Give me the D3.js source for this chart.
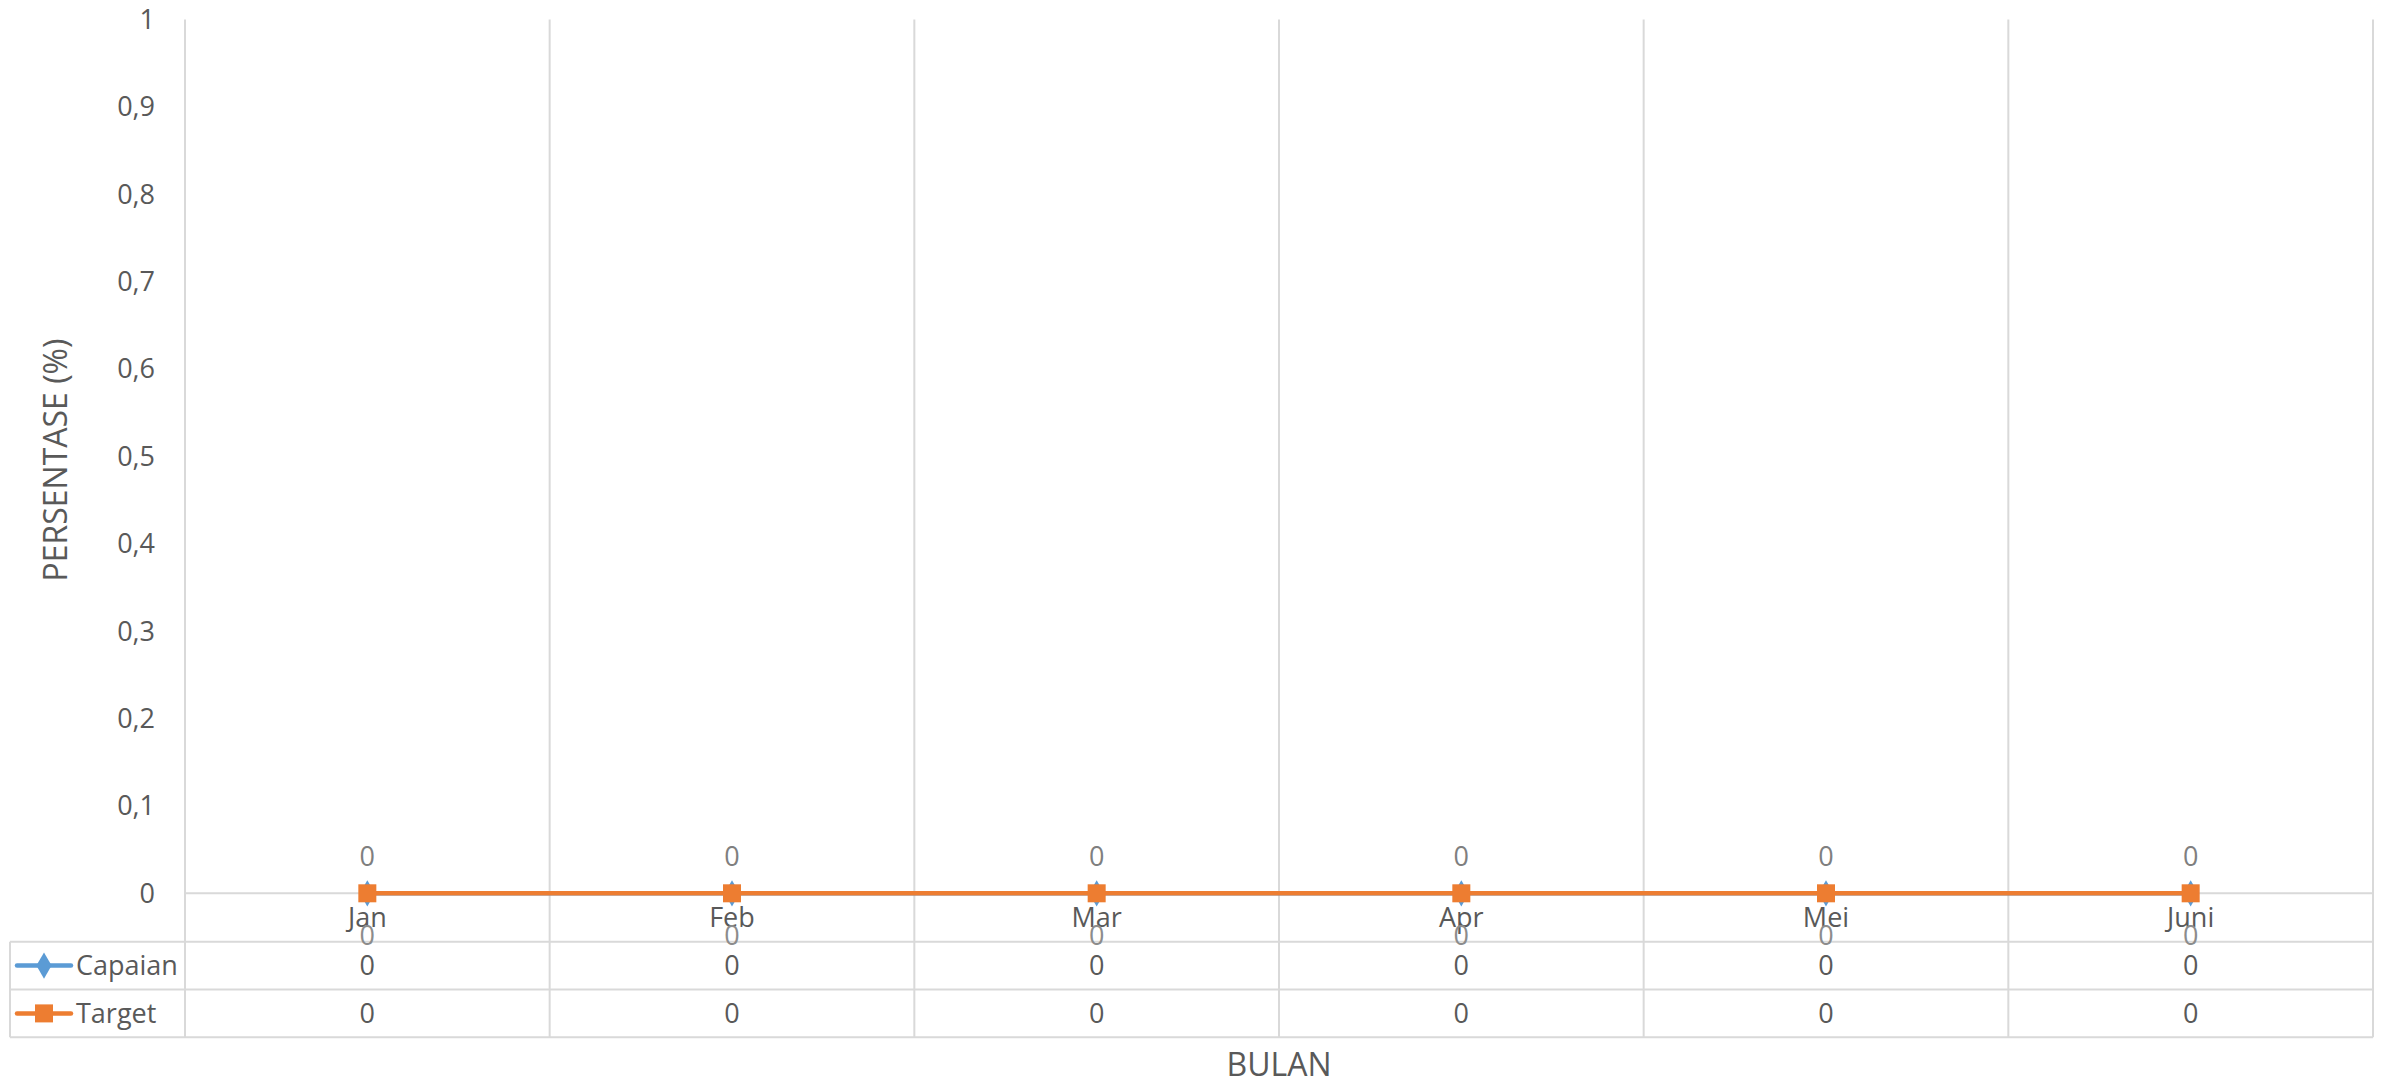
<!DOCTYPE html>
<html>
<head>
<meta charset="utf-8">
<script src="https://cdn.jsdelivr.net/npm/d3@7"></script>
<style>
  html, body { margin: 0; padding: 0; background: #fff; }
  svg { display: block; font-family: "Open Sans", "Noto Sans", sans-serif; }
</style>
</head>
<body>
<svg id="chart" width="2384" height="1082"></svg>
<script>
const categories = ["Jan", "Feb", "Mar", "Apr", "Mei", "Juni"];
const capaian = [0, 0, 0, 0, 0, 0];
const target = [0, 0, 0, 0, 0, 0];
const yTicks = [0, 0.1, 0.2, 0.3, 0.4, 0.5, 0.6, 0.7, 0.8, 0.9, 1];
const seriesNames = ["Capaian", "Target"];
const seriesColors = ["#5B9BD5", "#ED7D31"];
const yTitle = "PERSENTASE (%)";
const xTitle = "BULAN";

const svg = d3.select("#chart");
const plotLeft = 185, plotRight = 2373, plotTop = 19.5, zeroY = 893.3;
const tableTop = 941.7, rowH = 47.8, tableLeft = 10;
const tableBottom = tableTop + 2 * rowH;
const gridColor = "#d9d9d9";

const x = d3.scaleBand().domain(categories).range([plotLeft, plotRight]);
const y = d3.scaleLinear().domain([0, 1]).range([zeroY, plotTop]);
const cx = d => x(d) + x.bandwidth() / 2;

// vertical gridlines (category boundaries) extending through the data table
const bounds = categories.map(c => x(c)).concat([plotRight]);
svg.append("g").selectAll("line").data(bounds).join("line")
  .attr("x1", d => d).attr("x2", d => d)
  .attr("y1", plotTop).attr("y2", tableBottom)
  .attr("stroke", gridColor).attr("stroke-width", 2);

// zero axis line
svg.append("line").attr("x1", plotLeft).attr("x2", plotRight)
  .attr("y1", y(0)).attr("y2", y(0)).attr("stroke", gridColor).attr("stroke-width", 2);

// table horizontal lines
[0, 1, 2].forEach(i => {
  svg.append("line").attr("x1", tableLeft).attr("x2", plotRight)
    .attr("y1", tableTop + i * rowH).attr("y2", tableTop + i * rowH)
    .attr("stroke", gridColor).attr("stroke-width", 2);
});
svg.append("line").attr("x1", tableLeft).attr("x2", tableLeft)
  .attr("y1", tableTop).attr("y2", tableBottom).attr("stroke", gridColor).attr("stroke-width", 2);

// y axis tick labels
const fmt = v => d3.format(".1~f")(v).replace(".", ",");
svg.append("g").selectAll("text").data(yTicks).join("text")
  .attr("x", 155).attr("y", d => y(d)).attr("dy", "0.35em")
  .attr("text-anchor", "end").attr("font-size", 27).attr("fill", "#595959")
  .text(fmt);

// category labels
svg.append("g").selectAll("text").data(categories).join("text")
  .attr("x", cx).attr("y", 918).attr("dy", "0.35em")
  .attr("text-anchor", "middle").attr("font-size", 27).attr("fill", "#595959")
  .text(d => d);

// series
const allSeries = [capaian, target];
const line = d3.line().x((d, i) => cx(categories[i])).y(d => y(d));
allSeries.forEach((vals, s) => {
  svg.append("path").datum(vals).attr("d", line)
    .attr("fill", "none").attr("stroke", seriesColors[s]).attr("stroke-width", 4.5)
    .attr("stroke-linejoin", "round");
  const g = svg.append("g");
  if (s === 0) {
    g.selectAll("path").data(vals).join("path")
      .attr("d", d3.symbol(d3.symbolDiamond, 200))
      .attr("transform", (d, i) => `translate(${cx(categories[i])},${y(d)})`)
      .attr("fill", seriesColors[s]);
  } else {
    g.selectAll("rect").data(vals).join("rect")
      .attr("x", (d, i) => cx(categories[i]) - 9).attr("y", d => y(d) - 9)
      .attr("width", 18).attr("height", 18).attr("fill", seriesColors[s]);
  }
});

// data labels: target above, capaian below
svg.append("g").selectAll("text").data(target).join("text")
  .attr("x", (d, i) => cx(categories[i])).attr("y", d => y(d) - 36.6).attr("dy", "0.35em")
  .attr("text-anchor", "middle").attr("font-size", 27).attr("fill", "#7f7f7f")
  .text(d => d);
svg.append("g").selectAll("text").data(capaian).join("text")
  .attr("x", (d, i) => cx(categories[i])).attr("y", d => y(d) + 42).attr("dy", "0.35em")
  .attr("text-anchor", "middle").attr("font-size", 27).attr("fill", "#8c8c8c")
  .text(d => d);

// data table rows
allSeries.forEach((vals, s) => {
  const rowY = tableTop + rowH * (s + 0.5);
  svg.append("g").selectAll("text").data(vals).join("text")
    .attr("x", (d, i) => cx(categories[i])).attr("y", rowY).attr("dy", "0.35em")
    .attr("text-anchor", "middle").attr("font-size", 27).attr("fill", "#595959")
    .text(d => d);
  // legend key
  svg.append("line").attr("x1", 17).attr("x2", 71).attr("y1", rowY).attr("y2", rowY)
    .attr("stroke", seriesColors[s]).attr("stroke-width", 4.5).attr("stroke-linecap", "round");
  if (s === 0) {
    svg.append("path").attr("d", d3.symbol(d3.symbolDiamond, 200))
      .attr("transform", `translate(44,${rowY})`).attr("fill", seriesColors[s]);
  } else {
    svg.append("rect").attr("x", 44 - 9).attr("y", rowY - 9).attr("width", 18).attr("height", 18)
      .attr("fill", seriesColors[s]);
  }
  svg.append("text").attr("x", 76).attr("y", rowY).attr("dy", "0.35em")
    .attr("font-size", 27).attr("fill", "#595959").text(seriesNames[s]);
});

// axis titles
svg.append("text").attr("transform", "translate(56,460) rotate(-90)")
  .attr("text-anchor", "middle").attr("dy", "0.35em")
  .attr("font-size", 32).attr("fill", "#595959").text(yTitle);
svg.append("text").attr("x", (plotLeft + plotRight) / 2).attr("y", 1065).attr("dy", "0.35em")
  .attr("text-anchor", "middle").attr("font-size", 32).attr("fill", "#595959").text(xTitle);
</script>
</body>
</html>
